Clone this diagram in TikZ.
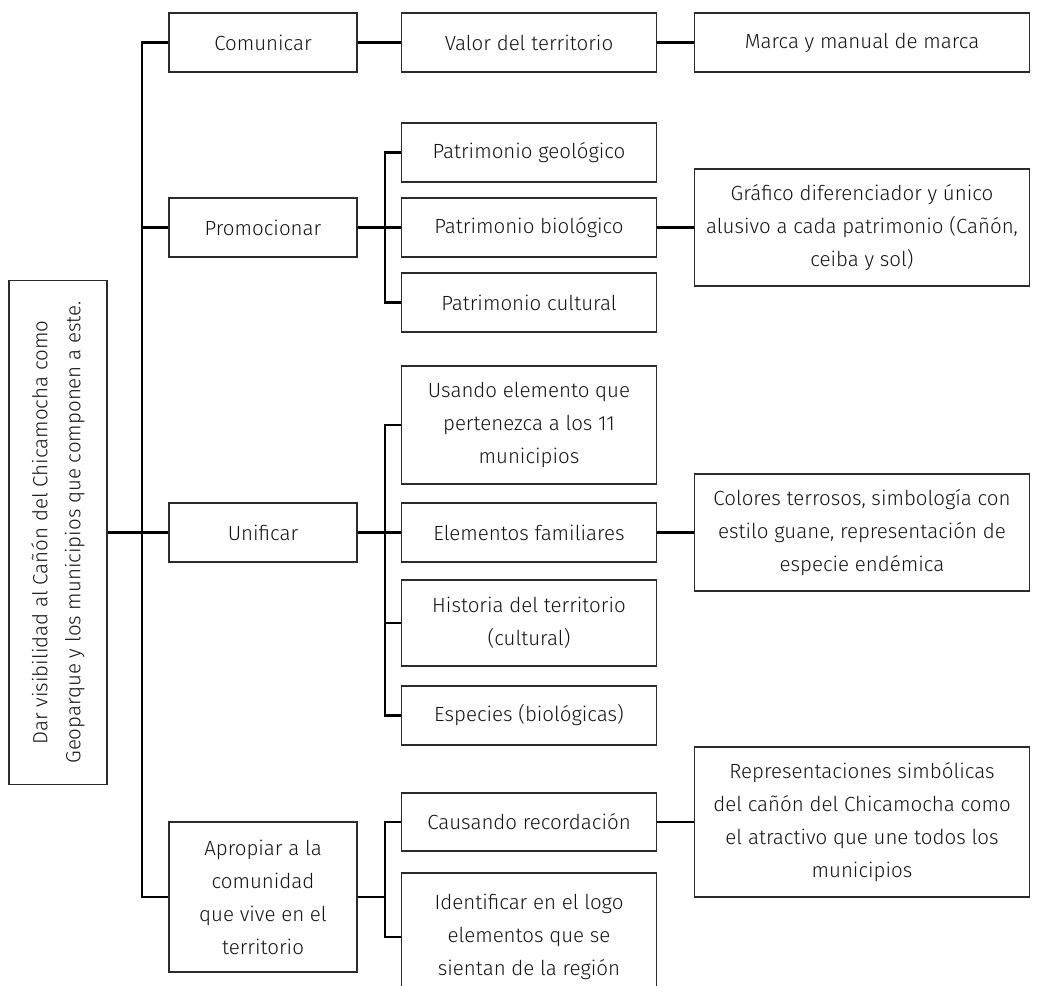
\documentclass[tikz,border=0pt]{standalone}
\usepackage{fontspec}
\setmainfont{Fira Sans Light}
\begin{document}
\begin{tikzpicture}[x=1pt,y=-1pt,
  box/.style={draw=boxc, line width=1.3pt, inner sep=0pt, align=center, text=txtc,
    font=\fontsize{20.5}{33}\selectfont},
  col1/.style={box, minimum width=188pt},
  col2/.style={box, minimum width=255pt},
  col3/.style={box, minimum width=335pt},
  conn/.style={draw=black, line width=2.5pt}]
\definecolor{boxc}{HTML}{2B2B2B}
\definecolor{txtc}{HTML}{141414}
\useasboundingbox (0,0) rectangle (1037,986);
\fill[white] (0,0) rectangle (1037,986);

% root
\node[box, minimum width=98pt, minimum height=504pt] (root) at (58,532.5) {};
\node[rotate=90, align=center, text=txtc, font=\fontsize{20.5}{33}\selectfont] (roott) at (root.center)
  {Dar visibilidad al Cañón del Chicamocha como\\Geoparque y los municipios que componen a este.};

% column 1
\node[col1, minimum height=59pt] (com) at (263,42.5) {Comunicar};
\node[col1, minimum height=59pt] (prom) at (263,227.5) {Promocionar};
\node[col1, minimum height=59pt] (uni) at (263,532.5) {Unificar};
\node[col1, minimum height=150pt] (apro) at (263,897) {Apropiar a la\\comunidad\\que vive en el\\territorio};

% column 2
\node[col2, minimum height=59pt] (valor) at (529,42.5) {Valor del territorio};
\node[col2, minimum height=59pt] (geo) at (529,152.5) {Patrimonio geológico};
\node[col2, minimum height=59pt] (bio) at (529,227.5) {Patrimonio biológico};
\node[col2, minimum height=59pt] (cult) at (529,302.5) {Patrimonio cultural};
\node[col2, minimum height=118pt] (usando) at (529,425) {Usando elemento que\\pertenezca a los 11\\municipios};
\node[col2, minimum height=59pt] (elem) at (529,532.5) {Elementos familiares};
\node[col2, minimum height=86pt] (hist) at (529,623) {Historia del territorio\\(cultural)};
\node[col2, minimum height=59pt] (esp) at (529,715.5) {Especies (biológicas)};
\node[col2, minimum height=58pt] (caus) at (529,822) {Causando recordación};
\node[col2, minimum height=128pt] (ident) at (529,937) {Identificar en el logo\\elementos que se\\sientan de la región};

% column 3
\node[col3, minimum height=59pt] (marca) at (862,42.5) {Marca y manual de marca};
\node[col3, minimum height=117pt] (graf) at (862,227.5) {Gráfico diferenciador y único\\alusivo a cada patrimonio (Cañón,\\ceiba y sol)};
\node[col3, minimum height=117pt] (colores) at (862,532.5) {Colores terrosos, simbología con\\estilo guane, representación de\\especie endémica};
\node[col3, minimum height=150pt] (repr) at (862,822) {Representaciones simbólicas\\del cañón del Chicamocha como\\el atractivo que une todos los\\municipios};

% trunk and branch lines
\coordinate (t) at (142,0);
\coordinate (b) at (385,0);

\draw[conn] (com.west) -- (com.west -| t) -- (apro.west -| t) -- (apro.west);
\draw[conn] (prom.west) -- (prom.west -| t);
\draw[conn] (root.east) -- (uni.west);

\draw[conn] (com.east) -- (valor.west);
\draw[conn] (valor.east) -- (marca.west);

\draw[conn] (prom.east) -- (bio.west);
\draw[conn] (geo.west) -- (geo.west -| b) -- (cult.west -| b) -- (cult.west);
\draw[conn] (bio.east) -- (graf.west);

\draw[conn] (uni.east) -- (elem.west);
\draw[conn] (usando.west) -- (usando.west -| b) -- (esp.west -| b) -- (esp.west);
\draw[conn] (hist.west) -- (hist.west -| b);
\draw[conn] (elem.east) -- (colores.west);

\draw[conn] (caus.west) -- (caus.west -| b) -- (ident.west -| b) -- (ident.west);
\draw[conn] (apro.east) -- (apro.east -| b);
\draw[conn] (caus.east) -- (repr.west);
\end{tikzpicture}
\end{document}
